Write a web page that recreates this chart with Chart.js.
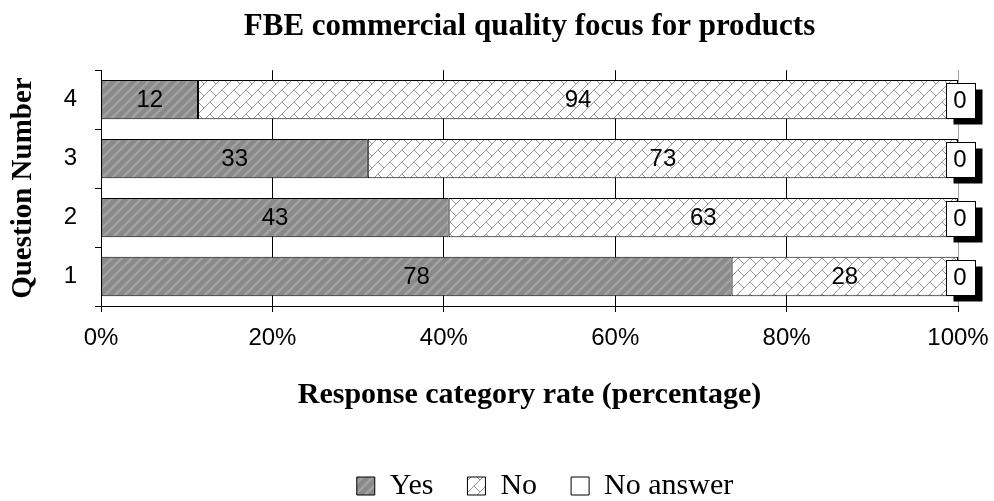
<!DOCTYPE html>
<html>
<head>
<meta charset="utf-8">
<script src="https://cdn.jsdelivr.net/npm/chart.js@4.4.1/dist/chart.umd.min.js"></script>
<style>
  html, body { margin: 0; padding: 0; background: #fff; }
</style>
</head>
<body>
<canvas id="focusChart" width="994" height="501"></canvas>
<script>
const questions = ['1', '2', '3', '4']
const yesCounts = [78, 43, 33, 12]
const noCounts = [28, 63, 73, 94]
const noAnswerCounts = [0, 0, 0, 0]
const rateTicks = [0, 20, 40, 60, 80, 100]

const serif = '"Liberation Serif", "Times New Roman", serif'
const sans = '"Liberation Sans", Arial, sans-serif'

// every row is drawn as a share of all answers given to that question
const totals = questions.map((q, i) => yesCounts[i] + noCounts[i] + noAnswerCounts[i])
const share = counts => counts.map((v, i) => v / totals[i] * 100)

// grey fill with light diagonal stripes
function stripeFill() {
    const n = 10
    const c = document.createElement('canvas')
    c.width = n; c.height = n
    const g = c.getContext('2d')
    g.fillStyle = '#8a8a8a'
    g.fillRect(0, 0, n, n)
    g.strokeStyle = '#a2a2a2'
    g.lineWidth = 2.5
    g.beginPath()
    g.moveTo(-2, n + 2); g.lineTo(n + 2, -2)
    g.moveTo(-2, 2); g.lineTo(2, -2)
    g.moveTo(n - 2, n + 2); g.lineTo(n + 2, n - 2)
    g.stroke()
    return g.createPattern(c, 'repeat')
}

// white fill with a grey diagonal brick hatch
function brickFill() {
    const step = 12
    const n = step * 2
    const c = document.createElement('canvas')
    c.width = n; c.height = n
    const g = c.getContext('2d')
    g.fillStyle = '#fff'
    g.fillRect(0, 0, n, n)
    g.strokeStyle = '#999'
    g.lineWidth = 1
    g.beginPath()
    for (let s = -n; s <= 3 * n; s += step) {
        g.moveTo(-4, s + 4); g.lineTo(s + 4, -4)
        const d0 = ((s % n) + n) % n === step ? 0 : step
        for (let d = d0 - 3 * n; d <= 3 * n; d += n) {
            g.moveTo((s + d) / 2, (s - d) / 2)
            g.lineTo((s + step + d) / 2, (s + step - d) / 2)
        }
    }
    g.stroke()
    return g.createPattern(c, 'repeat')
}

// value labels inside the bars, boxed with a drop shadow for "No answer"
const barLabels = {
    id: 'barLabels',
    afterDatasetsDraw(chart) {
        const ctx = chart.ctx
        ctx.save()
        ctx.font = '24px ' + sans
        ctx.textAlign = 'center'
        ctx.textBaseline = 'middle'
        chart.data.datasets.forEach((ds, di) => {
            chart.getDatasetMeta(di).data.forEach((bar, i) => {
                const text = String(ds.counts[i])
                let x = (bar.x + bar.base) / 2
                let y = bar.y
                if (ds.boxed) {
                    x = bar.x + 2
                    y = bar.y + 1
                    const w = Math.round(ctx.measureText(text).width) + 16
                    const h = 35
                    const left = Math.round(x - w / 2) + 0.5
                    const top = Math.round(y - h / 2) + 0.5
                    ctx.fillStyle = '#000'
                    ctx.fillRect(left + 7, top + 6, w, h)
                    ctx.fillStyle = '#fff'
                    ctx.fillRect(left, top, w, h)
                    ctx.strokeStyle = '#000'
                    ctx.lineWidth = 1
                    ctx.strokeRect(left, top, w, h)
                }
                ctx.fillStyle = '#000'
                ctx.fillText(text, x, y + 1)
            })
        })
        ctx.restore()
    }
}

// the legend sits right of centre, below the axis title
const legendPlace = {
    id: 'legendPlace',
    afterLayout(chart) {
        const lg = chart.legend
        lg.left += 66; lg.right += 66
        lg.top += 10; lg.bottom += 10
    }
}

const PLOT_LEFT = 101
const PLOT_BOTTOM = 306

const ctx = document.getElementById('focusChart').getContext('2d')
new Chart(ctx, {
    type: 'bar',
    data: {
        labels: questions,
        datasets: [
            {
                label: 'Yes',
                data: share(yesCounts),
                counts: yesCounts,
                backgroundColor: stripeFill(),
                borderColor: '#000',
                borderWidth: 1,
                borderSkipped: false
            },
            {
                label: 'No',
                data: share(noCounts),
                counts: noCounts,
                backgroundColor: brickFill(),
                borderColor: '#000',
                borderWidth: 1,
                borderSkipped: false
            },
            {
                label: 'No answer',
                data: share(noAnswerCounts),
                counts: noAnswerCounts,
                boxed: true,
                backgroundColor: '#fff',
                borderColor: '#000',
                borderWidth: 1,
                borderSkipped: false
            }
        ]
    },
    options: {
        indexAxis: 'y',
        responsive: false,
        animation: false,
        categoryPercentage: 0.667,
        barPercentage: 1,
        layout: { padding: { left: 0, right: 36, top: 0, bottom: 0 } },
        plugins: {
            title: {
                display: true,
                text: 'FBE commercial quality focus for products',
                fullSize: false,
                color: '#000',
                font: { family: serif, size: 31, weight: 'bold' },
                padding: { top: 8, bottom: 25 }
            },
            legend: {
                position: 'bottom',
                labels: {
                    color: '#000',
                    font: { family: serif, size: 30 },
                    boxWidth: 18,
                    boxHeight: 18,
                    padding: 34
                }
            },
            tooltip: { enabled: false }
        },
        scales: {
            x: {
                stacked: true,
                min: 0,
                max: 100,
                afterBuildTicks: s => { s.ticks = rateTicks.map(v => ({ value: v })) },
                ticks: {
                    color: '#000',
                    font: { family: sans, size: 24 },
                    padding: 12,
                    callback: v => v + '%'
                },
                grid: {
                    color: c => (c.tick && c.tick.value === 100 ? '#a0a0a0' : '#000'),
                    tickColor: '#000',
                    tickLength: 6
                },
                border: { color: '#000', width: 1 },
                title: {
                    display: true,
                    text: 'Response category rate (percentage)',
                    color: '#000',
                    font: { family: serif, size: 30, weight: 'bold' },
                    padding: { top: 0, bottom: 14 }
                },
                afterFit: s => {
                    s.height = s.chart.height - PLOT_BOTTOM - s.chart.legend.height
                    s.paddingLeft = 0
                    s.paddingRight = 0
                }
            },
            y: {
                stacked: true,
                reverse: true,
                ticks: {
                    color: '#000',
                    font: { family: sans, size: 24 },
                    padding: 18
                },
                grid: {
                    color: c => (c.index === questions.length ? '#a0a0a0' : 'rgba(0,0,0,0)'),
                    tickColor: '#000',
                    tickLength: 6
                },
                border: { color: '#000', width: 1 },
                title: {
                    display: true,
                    text: 'Question Number',
                    color: '#000',
                    font: { family: serif, size: 29, weight: 'bold' },
                    padding: { top: 6, bottom: 0 }
                },
                afterFit: s => { s.width = PLOT_LEFT }
            }
        }
    },
    plugins: [barLabels, legendPlace]
})
</script>
</body>
</html>
